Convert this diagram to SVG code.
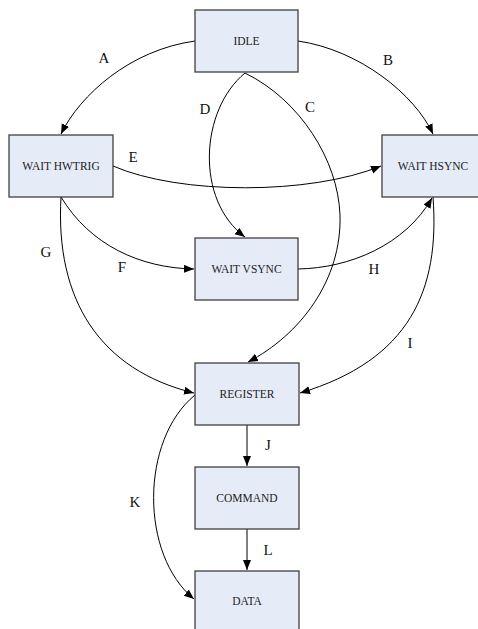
<svg xmlns="http://www.w3.org/2000/svg" width="478" height="629" viewBox="0 0 478 629">
<style>
.box{fill:#E6ECF7;stroke:#404040;stroke-width:1.3}
.nt{font-family:"Liberation Serif","Times New Roman",serif;font-size:11.5px;fill:#222;text-anchor:middle}
.el{font-family:"Liberation Serif","Times New Roman",serif;font-size:15px;fill:#111;text-anchor:middle}
.c{fill:none;stroke:#000;stroke-width:1}
</style>
<defs>
<marker id="ah" markerUnits="userSpaceOnUse" markerWidth="11" markerHeight="9" refX="10" refY="4" orient="auto">
<path d="M0,0 L10,4 L0,8 z" fill="#000"/>
</marker>
</defs>
<rect width="478" height="629" fill="#fff"/>
<g id="connectors">
<path id="A" class="c" d="M195,41 C130,50 80,95 61,134" marker-end="url(#ah)"/>
<path id="B" class="c" d="M298,41 C360,50 415,95 433,134" marker-end="url(#ah)"/>
<path id="C" class="c" d="M245,73 C300,100 338,160 340,215 C342,280 300,335 248,362" marker-end="url(#ah)"/>
<path id="D" class="c" d="M245,73 C200,110 195,200 245,237" marker-end="url(#ah)"/>
<path id="E" class="c" d="M113,166 C180,195 310,195 381,166" marker-end="url(#ah)"/>
<path id="F" class="c" d="M61,197 C90,245 140,268 194,269" marker-end="url(#ah)"/>
<path id="G" class="c" d="M61,197 C55,300 100,370 194,393" marker-end="url(#ah)"/>
<path id="H" class="c" d="M298,269 C350,268 405,245 432,198" marker-end="url(#ah)"/>
<path id="I" class="c" d="M433,197 C440,290 410,360 300,393" marker-end="url(#ah)"/>
<path id="J" class="c" d="M247,425 L247,466" marker-end="url(#ah)" stroke="#333"/>
<path id="K" class="c" d="M195,395 C140,440 140,555 194,599" marker-end="url(#ah)"/>
<path id="L" class="c" d="M247,529 L247,570" marker-end="url(#ah)" stroke="#333"/>
<text class="el" x="104" y="63">A</text>
<text class="el" x="388" y="65">B</text>
<text class="el" x="310" y="112">C</text>
<text class="el" x="205" y="114">D</text>
<text class="el" x="133" y="162">E</text>
<text class="el" x="122" y="272">F</text>
<text class="el" x="46" y="257">G</text>
<text class="el" x="374" y="274">H</text>
<text class="el" x="410" y="348">I</text>
<text class="el" x="268" y="450">J</text>
<text class="el" x="135" y="507">K</text>
<text class="el" x="268" y="555">L</text>
</g>
<g id="idle"><rect class="box" x="195" y="10" width="103" height="62"/><text class="nt" x="246.5" y="45">IDLE</text></g>
<g id="wait-hwtrig"><rect class="box" x="9" y="135" width="104" height="62"/><text class="nt" x="61" y="170">WAIT HWTRIG</text></g>
<g id="wait-hsync"><rect class="box" x="382" y="135" width="103" height="62"/><text class="nt" x="433" y="170">WAIT HSYNC</text></g>
<g id="wait-vsync"><rect class="box" x="195" y="238" width="103" height="62"/><text class="nt" x="246.5" y="273">WAIT VSYNC</text></g>
<g id="register"><rect class="box" x="195" y="363" width="104" height="62"/><text class="nt" x="247" y="398">REGISTER</text></g>
<g id="command"><rect class="box" x="195" y="467" width="104" height="62"/><text class="nt" x="247" y="502">COMMAND</text></g>
<g id="data"><rect class="box" x="195" y="571" width="104" height="62"/><text class="nt" x="247" y="605">DATA</text></g>
</svg>
